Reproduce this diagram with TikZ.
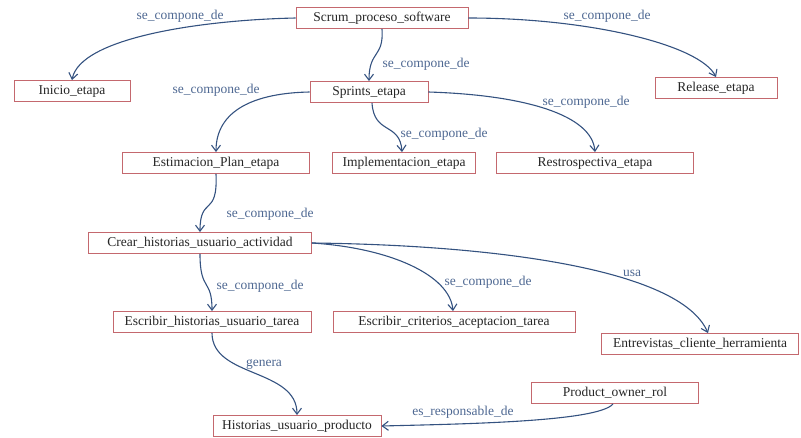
\documentclass[tikz,border=0pt]{standalone}
\usepackage{fontspec}
\setmainfont{Liberation Serif}
\usetikzlibrary{arrows.meta}
\definecolor{boxred}{RGB}{196,104,110}
\definecolor{linkblue}{RGB}{52,82,128}
\definecolor{labelblue}{RGB}{78,104,146}
\tikzset{
  concept/.style={draw=boxred, line width=0.9pt, fill=white, inner sep=0pt,
    minimum height=21pt, font=\fontsize{13.5}{15}\selectfont, text=black!85},
  rel/.style={draw=linkblue, line width=1.1pt,
    -{Straight Barb[length=6pt,width=9pt,line width=1.1pt]}},
  rellabel/.style={text=labelblue, font=\fontsize{13.5}{15}\selectfont, inner sep=1pt}
}
\begin{document}
\begin{tikzpicture}[x=1pt,y=-1pt]
\useasboundingbox (0,0) rectangle (801,437);

% concepts
\node[concept, minimum width=172pt] (scrum) at (382,18) {Scrum\_proceso\_software};
\node[concept, minimum width=116pt] (inicio) at (72,91) {Inicio\_etapa};
\node[concept, minimum width=122pt] (release) at (716,88) {Release\_etapa};
\node[concept, minimum width=118pt] (sprints) at (369,92) {Sprints\_etapa};
\node[concept, minimum width=187pt] (estim) at (216,163) {Estimacion\_Plan\_etapa};
\node[concept, minimum width=143pt] (impl) at (404,163) {Implementacion\_etapa};
\node[concept, minimum width=197pt] (retro) at (595,163) {Restrospectiva\_etapa};
\node[concept, minimum width=223pt] (crear) at (200,243) {Crear\_historias\_usuario\_actividad};
\node[concept, minimum width=198pt] (eshist) at (212,322) {Escribir\_historias\_usuario\_tarea};
\node[concept, minimum width=242pt] (escrit) at (454,322) {Escribir\_criterios\_aceptacion\_tarea};
\node[concept, minimum width=197pt] (entrev) at (700,344) {Entrevistas\_cliente\_herramienta};
\node[concept, minimum width=167pt] (powner) at (615,393) {Product\_owner\_rol};
\node[concept, minimum width=168pt] (hprod) at (297,426) {Historias\_usuario\_producto};

% relations
\draw[rel] (scrum.west) .. controls (200,20) and (80,38) .. (inicio.north);
\draw[rel] (scrum.east) .. controls (590,18) and (700,45) .. (release.north);
\draw[rel] (scrum.south) .. controls (384,58) and (369,50) .. (sprints.north);
\draw[rel] (sprints.west) .. controls (255,93) and (216,110) .. (estim.north);
\draw[rel] ([xshift=3pt]sprints.south) .. controls (374,135) and (400,122) .. ([xshift=-2pt]impl.north);
\draw[rel] (sprints.east) .. controls (525,95) and (592,115) .. (retro.north);
\draw[rel] (estim.south) .. controls (218,218) and (200,195) .. (crear.north);
\draw[rel] (crear.south) .. controls (200,292) and (212,278) .. (eshist.north);
\draw[rel] (crear.east) .. controls (390,248) and (450,275) .. ([xshift=-1pt]escrit.north);
\draw[rel] (crear.east) .. controls (490,245) and (680,268) .. ([xshift=8pt]entrev.north);
\draw[rel] (eshist.south) .. controls (212,378) and (297,368) .. (hprod.north);
\draw[rel] ([xshift=-2pt]powner.south) .. controls (598,422) and (460,424) .. (hprod.east);

% relation labels
\node[rellabel] (l1) at (180,16) {se\_compone\_de};
\node[rellabel] (l2) at (607,16) {se\_compone\_de};
\node[rellabel] (l3) at (426,64) {se\_compone\_de};
\node[rellabel] (l4) at (216,90) {se\_compone\_de};
\node[rellabel] (l5) at (444,134) {se\_compone\_de};
\node[rellabel] (l6) at (586,102) {se\_compone\_de};
\node[rellabel] (l7) at (270,214) {se\_compone\_de};
\node[rellabel] (l8) at (260,286) {se\_compone\_de};
\node[rellabel] (l9) at (488,282) {se\_compone\_de};
\node[rellabel] (l10) at (632,273) {usa};
\node[rellabel] (l11) at (264,364) {genera};
\node[rellabel] (l12) at (463,412) {es\_responsable\_de};
\end{tikzpicture}
\end{document}
